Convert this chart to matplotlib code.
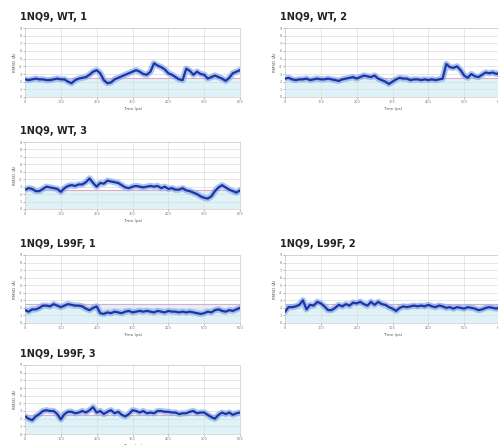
import numpy as np
import matplotlib
matplotlib.use("Agg")
import matplotlib.pyplot as plt

# time axis (ps), one sample every 10 ps
time = np.arange(0, 601, 10)

# RMSD traces (Angstrom)
wt_1 = [2.3, 2.2, 2.3, 2.4, 2.3, 2.3, 2.2, 2.2, 2.3, 2.4, 2.3, 2.3, 2.0, 1.8, 2.2, 2.4,
        2.5, 2.6, 2.9, 3.3, 3.5, 3.1, 2.2, 1.8, 1.9, 2.3, 2.5, 2.7, 2.9, 3.1, 3.3, 3.5,
        3.3, 3.0, 2.9, 3.3, 4.4, 4.1, 3.9, 3.6, 3.1, 2.9, 2.6, 2.3, 2.2, 3.7, 3.4, 2.9,
        3.3, 3.0, 2.9, 2.4, 2.6, 2.8, 2.6, 2.4, 2.1, 2.5, 3.1, 3.3, 3.5]
wt_2 = [2.4, 2.5, 2.3, 2.2, 2.3, 2.3, 2.4, 2.2, 2.3, 2.4, 2.3, 2.3, 2.4, 2.3, 2.2, 2.1,
        2.3, 2.4, 2.5, 2.6, 2.4, 2.6, 2.8, 2.7, 2.6, 2.8, 2.4, 2.2, 2.0, 1.7, 2.0, 2.3,
        2.5, 2.4, 2.4, 2.2, 2.3, 2.3, 2.2, 2.3, 2.2, 2.3, 2.2, 2.3, 2.4, 4.3, 3.9, 3.8,
        4.0, 3.5, 2.8, 2.5, 3.0, 2.7, 2.6, 2.9, 3.2, 3.1, 3.2, 3.0, 3.2]
wt_3 = [2.6, 2.8, 2.7, 2.4, 2.4, 2.7, 3.0, 2.9, 2.8, 2.7, 2.3, 2.8, 3.1, 3.2, 3.1, 3.3,
        3.3, 3.6, 4.1, 3.5, 3.0, 3.5, 3.4, 3.8, 3.7, 3.6, 3.5, 3.2, 2.9, 2.8, 3.0, 3.1,
        3.0, 2.9, 3.0, 3.1, 3.0, 3.1, 2.8, 3.0, 2.7, 2.8, 2.6, 2.6, 2.8, 2.5, 2.4, 2.2,
        2.0, 1.7, 1.5, 1.4, 1.7, 2.4, 2.9, 3.2, 2.9, 2.6, 2.4, 2.2, 2.5]
l99f_1 = [1.7, 1.5, 1.8, 1.8, 2.0, 2.3, 2.3, 2.2, 2.5, 2.3, 2.1, 2.3, 2.5, 2.4, 2.3, 2.3,
          2.2, 1.9, 1.7, 2.0, 2.2, 1.3, 1.2, 1.4, 1.3, 1.5, 1.4, 1.3, 1.5, 1.6, 1.4, 1.5,
          1.6, 1.5, 1.6, 1.5, 1.4, 1.6, 1.5, 1.4, 1.6, 1.5, 1.5, 1.4, 1.5, 1.4, 1.5, 1.4,
          1.3, 1.2, 1.3, 1.5, 1.4, 1.7, 1.8, 1.6, 1.5, 1.7, 1.6, 1.8, 2.0]
l99f_2 = [1.5, 2.1, 2.1, 2.2, 2.4, 3.0, 1.8, 2.4, 2.3, 2.8, 2.6, 2.2, 1.7, 1.7, 2.0, 2.4,
          2.2, 2.5, 2.3, 2.7, 2.6, 2.8, 2.5, 2.3, 2.8, 2.4, 2.8, 2.5, 2.4, 2.1, 1.9, 1.6,
          2.0, 2.2, 2.1, 2.2, 2.3, 2.2, 2.3, 2.2, 2.4, 2.2, 2.1, 2.3, 2.2, 2.0, 2.1, 1.9,
          2.1, 2.0, 1.9, 2.1, 2.0, 1.9, 1.7, 1.8, 2.0, 2.1, 2.0, 1.9, 2.1]
l99f_3 = [2.3, 2.0, 1.8, 2.3, 2.6, 3.0, 3.1, 3.0, 3.0, 2.6, 1.9, 2.6, 2.9, 2.9, 2.7, 2.8,
          3.0, 2.8, 3.1, 3.5, 2.8, 3.0, 2.6, 2.9, 3.1, 2.7, 2.9, 2.5, 2.3, 2.6, 3.1, 3.0,
          2.8, 3.0, 2.7, 2.8, 2.7, 3.0, 3.0, 2.9, 2.9, 2.8, 2.8, 2.6, 2.7, 2.7, 2.9, 3.0,
          2.7, 2.8, 2.8, 2.5, 2.2, 2.0, 2.5, 2.8, 2.6, 2.8, 2.5, 2.7, 2.8]

titles = ["1NQ9, WT, 1", "1NQ9, WT, 2", "1NQ9, WT, 3",
          "1NQ9, L99F, 1", "1NQ9, L99F, 2", "1NQ9, L99F, 3"]
series = [wt_1, wt_2, wt_3, l99f_1, l99f_2, l99f_3]
threshold = 2.5

W, H = 498, 445
fig = plt.figure(figsize=(W / 100, H / 100), dpi=100)

# panel boxes in pixels: left, top, bottom
boxes = [(25, 28, 97), (285, 28, 97), (25, 142, 209),
         (25, 255, 323), (285, 255, 323), (25, 365, 434)]
panel_w = 215

for title, vals, (left, top, bottom) in zip(titles, series, boxes):
    ax = fig.add_axes([left / W, 1 - bottom / H, panel_w / W, (bottom - top) / H])
    ax.axhspan(0, threshold, color="#dff2f8", zorder=0)
    ax.axhline(threshold, color="#e49ac0", lw=0.6, zorder=1)
    ax.plot(time, vals, color="#86aee8", lw=4.5, alpha=0.7, zorder=2)
    ax.plot(time, vals, color="#1f33a6", lw=1.6, zorder=3)
    ax.set_xlim(0, 600)
    ax.set_ylim(0, 9)
    ax.set_xticks(np.arange(0, 601, 100))
    ax.set_yticks(np.arange(0, 10, 1))
    ax.tick_params(labelsize=2.5, length=1.5, width=0.4, colors="#777777", pad=1)
    ax.grid(color="#dddddd", lw=0.5)
    ax.set_axisbelow(True)
    for sp in ax.spines.values():
        sp.set_color("#cccccc")
        sp.set_linewidth(0.5)
    ax.set_xlabel("Time (ps)", fontsize=3, color="#555555", labelpad=1.5)
    ax.set_ylabel("RMSD (Å)", fontsize=3, color="#555555", labelpad=2)
    fig.text((left - 5) / W, 1 - (top - 11) / H, title, fontsize=7, fontweight="bold",
             color="#222222", va="center", ha="left")

fig.savefig("out.png", dpi=100)
